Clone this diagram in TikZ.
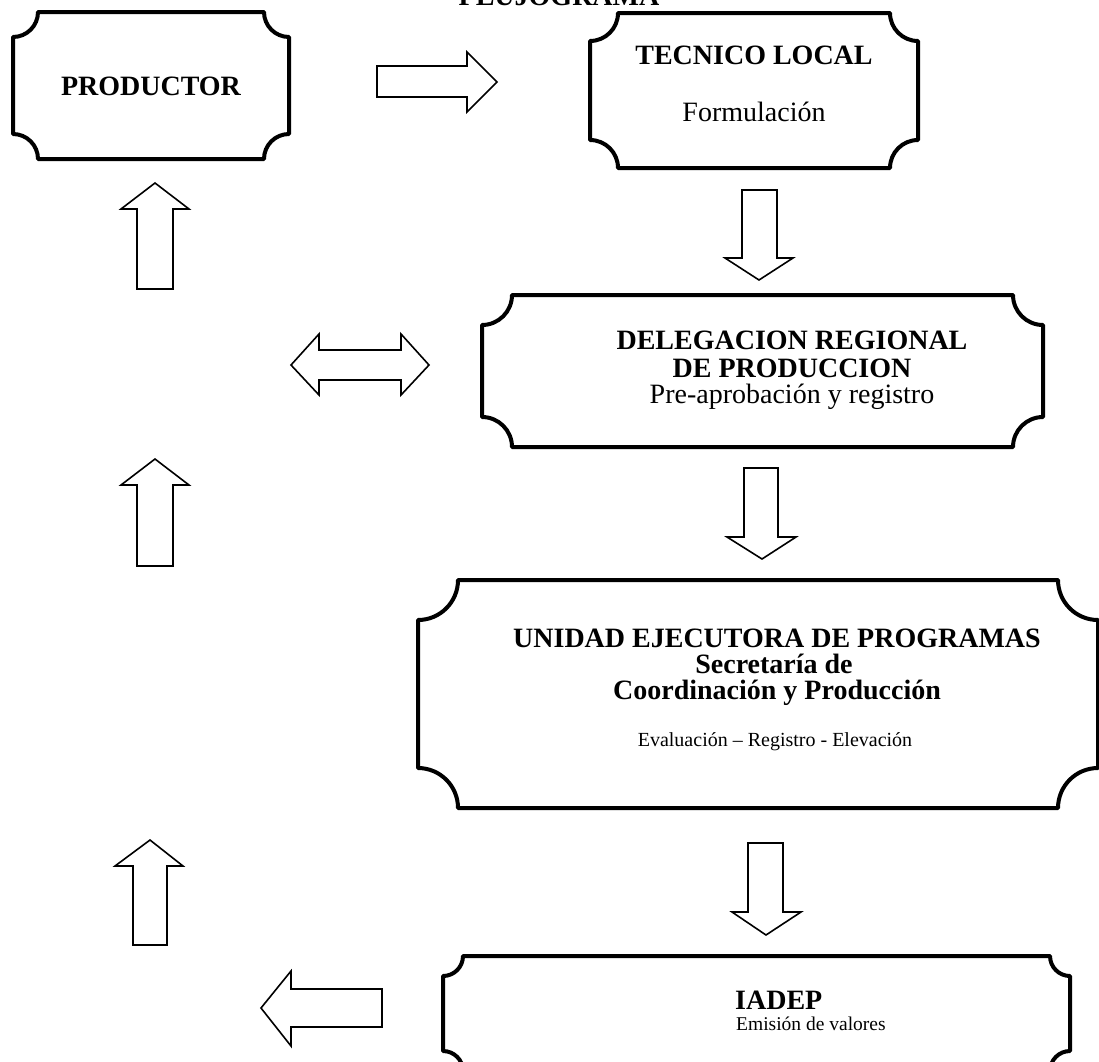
\documentclass[tikz,border=0pt]{standalone}
\usepackage{fontspec}
\setmainfont{Liberation Serif}
\newcommand\plaque[5]{% x1 y1 x2 y2 r
  \draw[boxline] ({#1+#5},#2) -- ({#3-#5},#2)
    arc[start angle=180,end angle=90,radius=#5]
    -- (#3,{#4-#5}) arc[start angle=-90,end angle=-180,radius=#5]
    -- ({#1+#5},#4) arc[start angle=0,end angle=-90,radius=#5]
    -- (#1,{#2+#5}) arc[start angle=90,end angle=0,radius=#5] -- cycle;}
\begin{document}
\begin{tikzpicture}[x=1pt,y=-1pt,
  boxline/.style={line width=4pt,line join=round},
  arr/.style={line width=1.6pt,line join=miter},
  bt/.style={font=\bfseries\fontsize{28}{30}\selectfont,anchor=base,inner sep=0pt},
  rt/.style={font=\fontsize{28}{30}\selectfont,anchor=base,inner sep=0pt},
  st/.style={font=\fontsize{20}{24}\selectfont,anchor=base,inner sep=0pt}]
\useasboundingbox (0,0) rectangle (1099,1061);
\fill[white] (0,0) rectangle (1099,1061);
\clip (0,0) rectangle (1099,1061);

% title (cut off at top)
\node[bt] (title) at (559,5) {FLUJOGRAMA};

% boxes
\plaque{13}{12}{289}{159}{25}
\node[bt] (prod) at (151,95) {PRODUCTOR};

\plaque{590}{13}{918}{168}{28}
\node[bt] (tec) at (754,64) {TECNICO LOCAL};
\node[rt] (form) at (754,121) {Formulación};

\plaque{482}{295}{1043}{447}{30}
\node[bt] (del1) at (792,349) {DELEGACION REGIONAL};
\node[bt] (del2) at (792,377) {DE PRODUCCION};
\node[rt] (del3) at (792,403) {Pre-aprobación y registro};

\plaque{418}{580}{1098}{808}{40}
\node[bt] (uni1) at (777,647) {UNIDAD EJECUTORA DE PROGRAMAS};
\node[bt] (uni2) at (774,673) {Secretaría de};
\node[bt] (uni3) at (777,699) {Coordinación y Producción};
\node[st] (uni4) at (775,746) {Evaluación – Registro - Elevación};

\plaque{443}{956}{1070}{1071}{20}
\node[bt,anchor=base west] (iad1) at (735,1009) {IADEP};
\node[st,font=\fontsize{19.5}{22}\selectfont,anchor=base west] (iad2) at (736,1030) {Emisión de valores};

% block arrows
\draw[arr] (377,66) -- (467,66) -- (467,52) -- (497,82) -- (467,112) -- (467,97) -- (377,97) -- cycle;
\draw[arr] (742,190) -- (777,190) -- (777,258) -- (793,258) -- (759,280) -- (725,258) -- (742,258) -- cycle;
\draw[arr] (291,365) -- (319,334) -- (319,350) -- (401,350) -- (401,334) -- (429,365) -- (401,395) -- (401,380) -- (319,380) -- (319,395) -- cycle;
\draw[arr] (137,289) -- (137,209) -- (121,209) -- (155,183) -- (189,209) -- (173,209) -- (173,289) -- cycle;
\draw[arr] (137,566) -- (137,485) -- (121,485) -- (155,459) -- (189,485) -- (173,485) -- (173,566) -- cycle;
\draw[arr] (744,468) -- (778,468) -- (778,537) -- (796,537) -- (762,559) -- (727,537) -- (744,537) -- cycle;
\draw[arr] (133,945) -- (133,866) -- (115,866) -- (150,840) -- (183,866) -- (167,866) -- (167,945) -- cycle;
\draw[arr] (748,843) -- (783,843) -- (783,912) -- (801,912) -- (766,935) -- (732,912) -- (748,912) -- cycle;
\draw[arr] (382,989) -- (291,989) -- (291,971) -- (261,1008) -- (291,1046) -- (291,1027) -- (382,1027) -- cycle;
\end{tikzpicture}
\end{document}
